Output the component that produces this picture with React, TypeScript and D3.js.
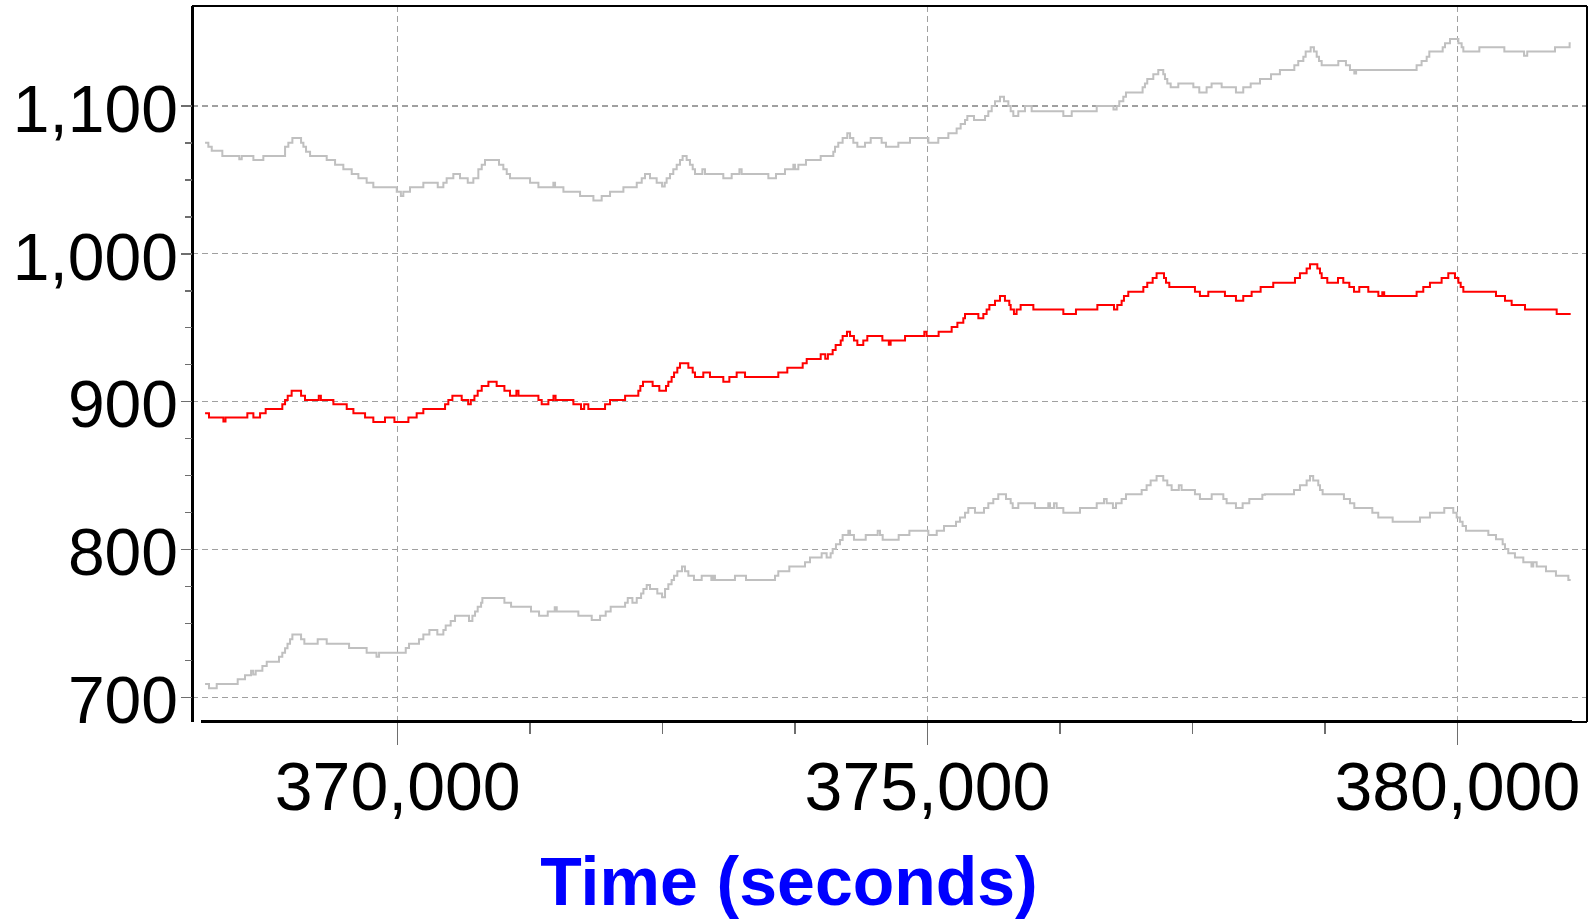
import React from "react";
import * as d3 from "d3";

const W = 1589;
const H = 923;

// [time (s), value]
const upperBand: [number, number][] = [
  [368182, 1075.2], [368213, 1072.5], [368245, 1069.8], [368345, 1066.2], [368505, 1064.0], [368528, 1066.2],
  [368638, 1063.5], [368732, 1066.2], [368937, 1072.5], [368968, 1075.2], [369006, 1078.4], [369088, 1075.2],
  [369110, 1072.5], [369135, 1069.1], [369173, 1066.2], [369330, 1063.5], [369409, 1060.3], [369487, 1057.2],
  [369566, 1054.0], [369629, 1051.1], [369707, 1048.1], [369770, 1045.0], [369991, 1042.0], [370030, 1039.1],
  [370053, 1042.0], [370116, 1045.0], [370242, 1048.1], [370378, 1045.0], [370431, 1048.1], [370462, 1051.1],
  [370525, 1054.0], [370588, 1051.1], [370661, 1048.1], [370714, 1051.1], [370761, 1057.2], [370793, 1060.3],
  [370824, 1063.5], [370956, 1060.3], [370997, 1057.2], [371029, 1054.0], [371060, 1051.1], [371249, 1048.1],
  [371328, 1045.0], [371469, 1048.1], [371485, 1045.0], [371564, 1042.0], [371721, 1039.1], [371847, 1036.0],
  [371925, 1039.1], [372004, 1042.0], [372130, 1045.0], [372256, 1048.1], [372303, 1051.1], [372334, 1054.0],
  [372381, 1051.1], [372444, 1048.1], [372495, 1045.5], [372520, 1048.1], [372538, 1051.1], [372570, 1054.0],
  [372601, 1057.2], [372633, 1060.3], [372664, 1063.5], [372689, 1066.2], [372727, 1063.5], [372758, 1060.3],
  [372784, 1057.2], [372806, 1054.0], [372875, 1057.2], [372900, 1054.0], [373073, 1051.1], [373152, 1054.0],
  [373225, 1057.2], [373246, 1054.0], [373498, 1051.1], [373570, 1054.0], [373655, 1057.2], [373734, 1060.3],
  [373749, 1057.2], [373781, 1060.3], [373853, 1063.5], [373992, 1066.2], [374111, 1069.1], [374127, 1072.5],
  [374158, 1075.2], [374199, 1078.4], [374243, 1081.5], [374269, 1078.4], [374300, 1075.2], [374338, 1072.5],
  [374410, 1075.2], [374464, 1078.4], [374567, 1075.2], [374608, 1072.5], [374725, 1075.2], [374835, 1078.4],
  [375008, 1075.2], [375102, 1078.4], [375197, 1081.5], [375275, 1084.7], [375313, 1087.8], [375354, 1090.5],
  [375376, 1093.2], [375439, 1090.5], [375543, 1093.2], [375574, 1096.4], [375606, 1100.0], [375637, 1103.2],
  [375684, 1106.3], [375722, 1103.2], [375763, 1100.0], [375785, 1096.4], [375810, 1093.2], [375857, 1096.4],
  [375920, 1100.0], [375983, 1096.4], [376282, 1093.2], [376361, 1096.4], [376597, 1100.0], [376755, 1097.7],
  [376785, 1100.0], [376810, 1103.2], [376848, 1106.3], [376873, 1109.2], [377030, 1112.6], [377052, 1115.3],
  [377074, 1118.3], [377131, 1121.4], [377178, 1124.4], [377225, 1121.4], [377241, 1118.3], [377263, 1115.3],
  [377295, 1112.6], [377367, 1115.3], [377509, 1112.6], [377565, 1109.2], [377634, 1112.6], [377681, 1115.3],
  [377776, 1112.6], [377911, 1109.2], [377980, 1112.6], [378050, 1115.3], [378138, 1118.3], [378242, 1121.4],
  [378326, 1124.4], [378462, 1127.5], [378499, 1130.4], [378547, 1133.4], [378569, 1136.8], [378616, 1139.7],
  [378647, 1136.8], [378673, 1133.4], [378695, 1130.4], [378720, 1127.5], [378877, 1130.4], [378949, 1127.5],
  [378987, 1124.4], [379028, 1122.0], [379045, 1124.4], [379616, 1127.5], [379663, 1130.4], [379711, 1133.4],
  [379736, 1136.8], [379862, 1139.7], [379884, 1142.4], [379931, 1145.3], [380010, 1142.4], [380041, 1139.7],
  [380057, 1136.8], [380208, 1139.7], [380444, 1136.8], [380630, 1134.0], [380660, 1136.8], [380922, 1139.7],
  [381060, 1142.4], [381070, 1142.4],
];

const meanLine: [number, number][] = [
  [368182, 892.1], [368219, 889.2], [368355, 886.5], [368375, 889.2], [368581, 892.1], [368638, 889.2],
  [368701, 892.1], [368754, 895.0], [368911, 898.2], [368937, 901.1], [368962, 904.0], [368999, 907.4],
  [369088, 904.0], [369125, 901.1], [369255, 904.0], [369275, 901.1], [369393, 898.2], [369519, 895.0],
  [369582, 892.1], [369692, 889.2], [369770, 886.2], [369880, 889.2], [369969, 886.2], [370101, 889.2],
  [370179, 892.1], [370242, 895.0], [370447, 898.2], [370478, 901.1], [370516, 904.0], [370604, 901.1],
  [370665, 898.2], [370690, 901.1], [370724, 904.0], [370755, 907.4], [370793, 910.6], [370856, 913.5],
  [370934, 910.6], [371007, 907.4], [371060, 904.0], [371120, 907.4], [371140, 904.0], [371328, 901.1],
  [371359, 898.2], [371422, 901.1], [371470, 904.0], [371490, 901.1], [371658, 898.2], [371730, 895.0],
  [371760, 898.2], [371799, 895.0], [371957, 898.2], [372004, 901.1], [372146, 904.0], [372271, 907.4],
  [372290, 910.6], [372315, 913.5], [372406, 910.6], [372469, 907.4], [372532, 910.6], [372554, 913.5],
  [372585, 916.7], [372608, 919.8], [372639, 923.0], [372664, 925.9], [372743, 923.0], [372784, 919.8],
  [372806, 916.7], [372884, 919.8], [372947, 916.7], [373073, 913.5], [373130, 916.7], [373199, 919.8],
  [373278, 916.7], [373592, 919.8], [373677, 923.0], [373822, 925.9], [373860, 928.8], [373992, 932.0],
  [374035, 929.0], [374060, 932.0], [374105, 934.9], [374133, 938.3], [374181, 941.3], [374199, 944.4],
  [374240, 947.3], [374269, 944.4], [374306, 941.3], [374338, 938.3], [374394, 941.3], [374432, 944.4],
  [374574, 941.3], [374635, 938.5], [374652, 941.3], [374788, 944.4], [374970, 947.3], [374992, 944.4],
  [375105, 947.3], [375228, 950.5], [375282, 953.4], [375338, 956.4], [375354, 959.3], [375480, 956.4],
  [375527, 959.3], [375558, 962.4], [375584, 965.4], [375637, 968.3], [375684, 971.5], [375731, 968.3],
  [375772, 965.4], [375785, 962.4], [375816, 959.3], [375841, 962.4], [375879, 965.4], [375999, 962.4],
  [376282, 959.3], [376401, 962.4], [376603, 965.4], [376760, 962.4], [376791, 965.4], [376832, 968.3],
  [376854, 971.5], [376895, 974.4], [377037, 977.6], [377074, 980.5], [377125, 983.6], [377162, 986.8],
  [377232, 983.6], [377251, 980.5], [377282, 977.6], [377524, 974.4], [377571, 971.5], [377650, 974.4],
  [377807, 971.5], [377911, 968.3], [377980, 971.5], [378059, 974.4], [378144, 977.6], [378263, 980.5],
  [378468, 983.6], [378515, 986.8], [378578, 990.0], [378610, 992.9], [378679, 990.0], [378704, 986.8],
  [378720, 983.6], [378773, 980.5], [378874, 983.6], [378924, 980.5], [378981, 977.6], [379025, 974.4],
  [379075, 977.6], [379160, 974.4], [379255, 971.5], [379292, 974.0], [379310, 971.5], [379616, 974.4],
  [379679, 977.6], [379742, 980.5], [379852, 983.6], [379915, 986.8], [379978, 983.6], [380010, 980.5],
  [380032, 977.6], [380057, 974.4], [380365, 971.5], [380450, 968.3], [380513, 965.4], [380639, 962.4],
  [380938, 959.3], [381070, 959.3],
];

const lowerBand: [number, number][] = [
  [368182, 709.0], [368219, 706.1], [368292, 709.0], [368490, 712.2], [368559, 715.0], [368616, 718.0],
  [368636, 715.5], [368660, 718.0], [368723, 721.2], [368764, 724.1], [368880, 727.5], [368911, 730.2],
  [368937, 733.1], [368960, 736.3], [368984, 739.2], [369006, 742.4], [369088, 739.2], [369119, 736.3],
  [369245, 739.2], [369330, 736.3], [369541, 733.4], [369707, 730.2], [369800, 727.5], [369824, 730.2],
  [370076, 733.4], [370107, 736.3], [370201, 739.2], [370242, 742.4], [370299, 745.5], [370374, 742.4],
  [370431, 745.5], [370453, 748.5], [370500, 751.6], [370541, 755.2], [370673, 751.6], [370705, 755.2],
  [370730, 758.1], [370755, 761.3], [370787, 764.0], [370799, 767.2], [371007, 764.0], [371070, 761.3],
  [371258, 758.1], [371334, 755.2], [371416, 758.1], [371482, 761.0], [371501, 758.1], [371705, 755.2],
  [371831, 752.3], [371910, 755.2], [371963, 758.1], [372010, 761.3], [372146, 764.0], [372171, 767.2],
  [372215, 764.0], [372256, 767.2], [372297, 770.3], [372319, 773.3], [372350, 776.0], [372381, 773.3],
  [372450, 770.3], [372495, 767.6], [372523, 773.3], [372554, 776.4], [372585, 779.3], [372608, 782.3],
  [372639, 785.2], [372683, 788.4], [372711, 785.2], [372743, 782.3], [372796, 779.3], [372869, 782.3],
  [372960, 779.3], [372975, 782.3], [372994, 779.3], [373183, 782.3], [373287, 779.3], [373561, 782.3],
  [373592, 785.2], [373696, 788.4], [373844, 791.3], [373891, 794.5], [374001, 797.4], [374048, 794.5],
  [374086, 797.4], [374105, 800.3], [374136, 803.5], [374174, 806.4], [374199, 809.8], [374253, 812.7],
  [374269, 809.8], [374306, 806.6], [374417, 809.8], [374530, 812.7], [374552, 809.8], [374577, 806.6],
  [374728, 809.8], [374829, 812.7], [375008, 809.8], [375087, 812.7], [375156, 815.9], [375269, 818.8],
  [375307, 821.7], [375354, 824.9], [375385, 828.1], [375448, 824.9], [375533, 828.1], [375574, 831.2],
  [375621, 834.1], [375668, 837.3], [375741, 834.1], [375785, 831.2], [375804, 828.1], [375857, 831.2],
  [376014, 828.1], [376140, 831.2], [376156, 828.1], [376194, 831.2], [376219, 828.1], [376282, 824.9],
  [376439, 828.1], [376597, 831.2], [376666, 834.1], [376691, 831.2], [376750, 828.1], [376779, 831.2],
  [376832, 834.1], [376873, 837.3], [377021, 840.2], [377068, 843.4], [377106, 846.6], [377162, 849.7],
  [377225, 846.6], [377263, 843.4], [377304, 840.2], [377372, 843.4], [377398, 840.2], [377524, 837.3],
  [377571, 834.1], [377682, 837.3], [377792, 834.1], [377823, 831.2], [377911, 828.1], [377974, 831.2],
  [378037, 834.1], [378160, 837.0], [378185, 837.3], [378459, 840.2], [378515, 843.4], [378578, 846.6],
  [378610, 849.7], [378640, 846.6], [378688, 843.4], [378704, 840.2], [378729, 837.3], [378930, 834.1],
  [378987, 831.2], [379028, 828.1], [379198, 824.9], [379254, 821.7], [379390, 818.8], [379648, 821.7],
  [379742, 824.9], [379877, 828.1], [379962, 824.9], [379994, 821.7], [380025, 818.8], [380050, 815.9],
  [380082, 812.7], [380293, 809.8], [380365, 806.9], [380428, 803.5], [380450, 800.3], [380481, 797.4],
  [380544, 794.5], [380623, 791.3], [380700, 788.4], [380717, 791.3], [380749, 788.4], [380837, 785.2],
  [380931, 782.3], [381048, 779.3], [381070, 779.3],
];

const xMajorTicks = [370000, 375000, 380000];
const xMinorTicks = [371250, 372500, 373750, 376250, 377500, 378750];
const yMajorTicks = [700, 800, 900, 1000, 1100];
const yMinorTicks = [725, 750, 775, 825, 850, 875, 925, 950, 975, 1025, 1050, 1075];
const xAxisTitle = "Time (seconds)";

const FONT = "'Liberation Sans', Arial, Helvetica, sans-serif";

export default function App() {
  const left = 192;
  const right = 1587;
  const top = 6;
  const bottom = 721;

  const x = d3.scaleLinear().domain([370000, 380000]).range([397.7, 1457.3]);
  const y = d3.scaleLinear().domain([700, 1100]).range([697.3, 106]);
  const fmt = d3.format(",");

  const line = d3
    .line<[number, number]>()
    .x((d) => x(d[0]))
    .y((d) => y(d[1]))
    .curve(d3.curveStepAfter);

  const gridColor = "#a0a0a0";
  const tickColor = "#6e6e6e";

  return (
    <div style={{ position: "fixed", left: 0, top: 0, width: W, height: H, background: "#fff" }}>
      <svg width={W} height={H} viewBox={`0 0 ${W} ${H}`} style={{ display: "block" }}>
        <rect x={0} y={0} width={W} height={H} fill="#fff" />
        {/* grid */}
        <g stroke={gridColor} strokeWidth={1.3} strokeDasharray="6,4" shapeRendering="crispEdges">
          {yMajorTicks.map((v) => (
            <line key={"gy" + v} x1={left} x2={right} y1={y(v)} y2={y(v)} />
          ))}
          {xMajorTicks.map((t) => (
            <line key={"gx" + t} x1={x(t)} x2={x(t)} y1={top} y2={bottom} />
          ))}
        </g>
        {/* series */}
        <g fill="none" strokeLinejoin="miter">
          <path d={line(upperBand) ?? ""} stroke="#c0c0c0" strokeWidth={2} />
          <path d={line(lowerBand) ?? ""} stroke="#c0c0c0" strokeWidth={2} />
          <path d={line(meanLine) ?? ""} stroke="#ff0000" strokeWidth={2} />
        </g>
        {/* frame */}
        <g fill="none" stroke="#000" shapeRendering="crispEdges">
          <line x1={left} x2={right} y1={top} y2={top} strokeWidth={2} />
          <line x1={right} x2={right} y1={top} y2={bottom + 1} strokeWidth={2} />
          <line x1={left} x2={left} y1={top} y2={bottom + 1} strokeWidth={3} />
          <line x1={201} x2={1572} y1={bottom} y2={bottom} strokeWidth={3} />
          <line x1={1572} x2={right} y1={bottom + 1} y2={bottom + 1} strokeWidth={2} />
        </g>
        {/* ticks */}
        <g stroke={tickColor} strokeWidth={1.5} shapeRendering="crispEdges">
          {yMajorTicks.map((v) => (
            <line key={"ty" + v} x1={181} x2={left} y1={y(v)} y2={y(v)} />
          ))}
          {yMinorTicks.map((v) => (
            <line key={"tym" + v} x1={185} x2={left} y1={y(v)} y2={y(v)} />
          ))}
          {xMajorTicks.map((t) => (
            <line key={"tx" + t} x1={x(t)} x2={x(t)} y1={bottom + 2} y2={bottom + 24} />
          ))}
          {xMinorTicks.map((t) => (
            <line key={"txm" + t} x1={x(t)} x2={x(t)} y1={bottom + 2} y2={bottom + 13} />
          ))}
        </g>
        {/* tick labels */}
        <g fontFamily={FONT} fill="#000">
          {yMajorTicks.map((v) => (
            <text key={"ly" + v} x={178} y={y(v) + 25.7} textAnchor="end" fontSize={66}>
              {fmt(v)}
            </text>
          ))}
          {xMajorTicks.map((t) => (
            <text key={"lx" + t} x={x(t)} y={810} textAnchor="middle" fontSize={68}>
              {fmt(t)}
            </text>
          ))}
        </g>
        <text
          x={789}
          y={905}
          textAnchor="middle"
          fontFamily={FONT}
          fontWeight="bold"
          fontSize={68}
          fill="#0000ff"
        >
          {xAxisTitle}
        </text>
      </svg>
    </div>
  );
}
